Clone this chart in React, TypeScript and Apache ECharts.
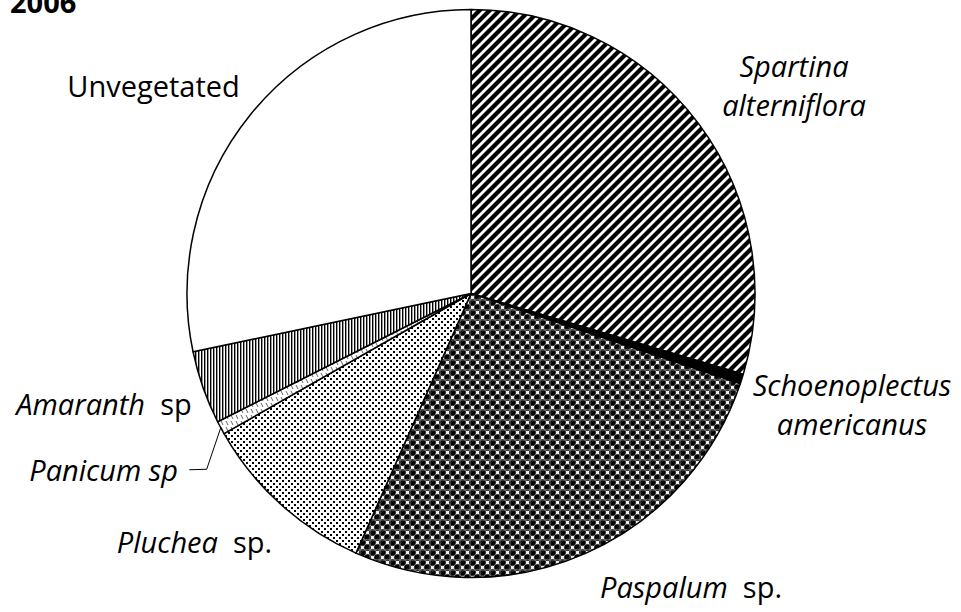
import React, { useEffect, useRef } from 'react';
import * as echarts from 'echarts';

// ---- data ----
const categories = [
  'Spartina alterniflora',
  'Schoenoplectus americanus',
  'Paspalum sp.',
  'Pluchea sp.',
  'Panicum sp',
  'Amaranth sp',
  'Unvegetated',
];
const coverPercent = [29.6, 0.56, 26.5, 10.15, 0.76, 4.17, 28.3];
const labelTexts = [
  '{i|Spartina}\n{i|alterniflora}',
  '{i|Schoenoplectus}\n{i|americanus}',
  '{i|Paspalum}{n|  sp.}',
  '{i|Pluchea}{n|  sp.}',
  '{i|Panicum sp}',
  '{i|Amaranth}{n|  sp}',
  '{n|Unvegetated}',
];
const titleText = '2006';

// ---- layout (not data) ----
const CENTER: [number, number] = [471, 293.5];
const RADIUS = 284;
const labelAnchors: [number, number, string][] = [
  [794, 85.25, 'center'],
  [852, 403.75, 'center'],
  [691, 586.75, 'center'],
  [194.5, 541.75, 'center'],
  [178, 469.75, 'right'],
  [191.7, 403.75, 'right'],
  [153.5, 85.8, 'center'],
];
const leaderIndex = 4;

type Drawer = (ctx: CanvasRenderingContext2D, w: number, h: number) => void;
function makePattern(w: number, h: number, draw: Drawer) {
  const c = document.createElement('canvas');
  c.width = w;
  c.height = h;
  const ctx = c.getContext('2d') as CanvasRenderingContext2D;
  ctx.fillStyle = '#fff';
  ctx.fillRect(0, 0, w, h);
  draw(ctx, w, h);
  return { image: c, repeat: 'repeat', imageWidth: w, imageHeight: h } as any;
}

function sphere(ctx: CanvasRenderingContext2D, cx: number, cy: number) {
  ctx.fillStyle = '#777';
  ctx.beginPath();
  ctx.arc(cx, cy, 3.7, 0, Math.PI * 2);
  ctx.fill();
  ctx.fillStyle = '#000';
  ctx.beginPath();
  ctx.arc(cx, cy, 3.1, 0, Math.PI * 2);
  ctx.fill();
}

function buildFills() {
  const stripes = makePattern(10, 10, (ctx, w) => {
    ctx.strokeStyle = '#000';
    ctx.lineWidth = 4.2;
    for (const c of [0, w, 2 * w]) {
      ctx.beginPath();
      ctx.moveTo(c + 3, -3);
      ctx.lineTo(-3, c + 3);
      ctx.stroke();
    }
  });
  const spheres = makePattern(10, 10, (ctx) => {
    const centers = [
      [2.5, 2.5], [7.5, 7.5],
      [-2.5, 7.5], [12.5, 7.5], [7.5, -2.5], [7.5, 12.5],
      [2.5, 12.5], [12.5, 2.5], [-2.5, 2.5], [2.5, -2.5],
      [-2.5, -2.5], [12.5, 12.5], [-2.5, 12.5], [12.5, -2.5],
    ];
    for (const [cx, cy] of centers) sphere(ctx, cx, cy);
  });
  const dots = makePattern(6, 6, (ctx) => {
    ctx.fillStyle = '#000';
    ctx.fillRect(0, 0, 2, 2);
    ctx.fillRect(3, 3, 2, 2);
  });
  const dashes = makePattern(5, 6, (ctx) => {
    ctx.strokeStyle = '#666';
    ctx.lineWidth = 1;
    ctx.beginPath();
    ctx.moveTo(1, 1);
    ctx.lineTo(3, 5);
    ctx.stroke();
  });
  const vstripes = makePattern(3, 3, (ctx) => {
    ctx.fillStyle = '#000';
    ctx.fillRect(0, 0, 1, 3);
    ctx.fillStyle = '#999';
    ctx.fillRect(1, 0, 1, 3);
  });
  return [stripes, '#000', spheres, dots, dashes, vstripes, '#fff'];
}

export default function App() {
  const ref = useRef<HTMLDivElement>(null);
  useEffect(() => {
    if (!ref.current) return;
    const chart = echarts.init(ref.current, undefined, { renderer: 'svg' });
    const fills = buildFills();
    const total = coverPercent.reduce((a, b) => a + b, 0);

    const fontFamily = "'Open Sans', 'DejaVu Sans', sans-serif";
    const option: any = {
      animation: false,
      backgroundColor: '#fff',
      textStyle: { fontFamily },
      graphic: [
        {
          type: 'text',
          x: 10,
          y: 1.5,
          style: {
            text: titleText,
            fontSize: 29,
            fontWeight: 'bold',
            fontFamily,
            fill: '#000',
            align: 'left',
            verticalAlign: 'middle',
          },
        },
      ],
      series: [
        {
          type: 'pie',
          center: CENTER,
          radius: RADIUS,
          startAngle: 90,
          clockwise: true,
          avoidLabelOverlap: false,
          silent: true,
          itemStyle: { borderColor: '#000', borderWidth: 1.5 },
          label: {
            show: true,
            position: 'outside',
            color: '#000',
            formatter: (p: any) => labelTexts[p.dataIndex],
            rich: {
              i: { fontFamily, fontStyle: 'italic', fontSize: 29, lineHeight: 39, color: '#000' },
              n: { fontFamily, fontSize: 29, lineHeight: 39, color: '#000' },
            },
          },
          labelLine: { show: false, lineStyle: { color: '#000', width: 1 } },
          labelLayout: (params: any) => {
            const i = params.dataIndex;
            const [x, y, align] = labelAnchors[i];
            const res: any = { x, y, align, verticalAlign: 'middle' };
            if (i === leaderIndex) {
              let start = params.labelLinePoints && params.labelLinePoints[0];
              if (!start) {
                let before = 0;
                for (let k = 0; k < i; k++) before += coverPercent[k];
                const mid = ((before + coverPercent[i] / 2) / total) * Math.PI * 2;
                start = [CENTER[0] + RADIUS * Math.sin(mid), CENTER[1] - RADIUS * Math.cos(mid)];
              }
              res.labelLinePoints = [start, [x + 28.7, y - 0.5], [x + 11.3, y]];
            }
            return res;
          },
          data: categories.map((name, i) => ({
            name,
            value: coverPercent[i],
            itemStyle: { color: fills[i] },
            labelLine: { show: i === leaderIndex },
          })),
        },
      ],
    };
    chart.setOption(option);
    return () => chart.dispose();
  }, []);
  return (
    <div
      ref={ref}
      style={{ position: 'fixed', left: 0, top: 0, width: 961, height: 612, background: '#fff' }}
    />
  );
}
